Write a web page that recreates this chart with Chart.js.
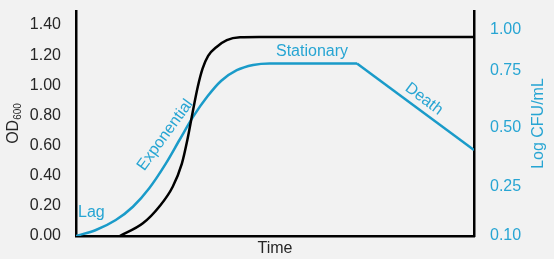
<!DOCTYPE html>
<html>
<head>
<meta charset="utf-8">
<script src="https://cdn.jsdelivr.net/npm/chart.js@4.4.1/dist/chart.umd.min.js"></script>
<style>
  html, body { margin: 0; padding: 0; background: #f2f2f2; overflow: hidden; }
  #wrap { width: 554px; height: 259px; }
</style>
</head>
<body>
<div id="wrap"><canvas id="growthChart"></canvas></div>
<script>
// OD600 curve (black), time in arbitrary units 0-100
const odTime = [11.0, 16.8, 20.9, 24.3, 26.6, 28.0, 29.3, 30.6, 31.8, 33.2, 35.4, 37.9, 41.2, 46, 100];
const odValues = [0, 0.084, 0.194, 0.327, 0.48, 0.64, 0.82, 0.99, 1.11, 1.195, 1.256, 1.30, 1.318, 1.32, 1.32];

// Log CFU/mL curve (blue): lag, exponential, stationary, then the death phase
const cfuTime = [0, 5.0, 10.0, 14.3, 18.4, 22.6, 26.0, 29.4, 33.0, 36.5, 40.4, 44.5, 48.7, 70.6];
const cfuValues = [0, 0.040, 0.106, 0.194, 0.317, 0.482, 0.637, 0.79, 0.925, 1.03, 1.10, 1.135, 1.145, 1.145];
const deathTime = [70.6, 100];
const deathValues = [1.145, 0.57];

// axis ticks
const odTicks = [0, 0.2, 0.4, 0.6, 0.8, 1.0, 1.2, 1.4];
const cfuTickLabels = ['0.10', '0.25', '0.50', '0.75', '1.00'];
const cfuTickAt = [0, 0.325, 0.717, 1.10, 1.367]; // where they sit on the OD scale

const phaseLabels = ['Lag', 'Exponential', 'Stationary', 'Death'];
const phaseAt = [[0.5, 0.153, 0, 'left'], [22.4, 0.67, -54, 'center'], [59.3, 1.221, 0, 'center'], [87.4, 0.909, 37, 'center']];

const BLUE = '#1a9bc9';
const TEXT_BLUE = '#27a5d3';
const DARK = '#262626';
const FONT = '"Liberation Sans", Arial, sans-serif';

const pts = (xs, ys) => xs.map((x, i) => ({ x: x, y: ys[i] }));

const textPlugin = {
  id: 'texts',
  afterDraw(chart) {
    const c = chart.ctx;
    const xs = chart.scales.x, ys = chart.scales.y;
    const area = chart.chartArea;
    c.save();
    c.textBaseline = 'middle';

    // OD600 title
    c.save();
    c.translate(14, (area.top + area.bottom) / 2);
    c.rotate(-Math.PI / 2);
    c.fillStyle = DARK;
    c.font = '16px ' + FONT;
    const w1 = c.measureText('OD').width;
    c.font = '10px ' + FONT;
    const w2 = c.measureText('600').width;
    const start = -(w1 + w2) / 2;
    c.font = '16px ' + FONT;
    c.textAlign = 'left';
    c.fillText('OD', start, 0);
    c.font = '10px ' + FONT;
    c.fillText('600', start + w1, 4);
    c.restore();

    // right title
    c.save();
    c.translate(539, (area.top + area.bottom) / 2);
    c.rotate(-Math.PI / 2);
    c.fillStyle = TEXT_BLUE;
    c.font = '16px ' + FONT;
    c.textAlign = 'center';
    c.fillText('Log CFU/mL', 0, 0);
    c.restore();

    // x title
    c.fillStyle = DARK;
    c.font = '16px ' + FONT;
    c.textAlign = 'center';
    c.fillText('Time', (area.left + area.right) / 2, 249);

    // phase labels
    phaseLabels.forEach((t, i) => {
      const p = phaseAt[i];
      c.save();
      c.translate(xs.getPixelForValue(p[0]), ys.getPixelForValue(p[1]));
      c.rotate(p[2] * Math.PI / 180);
      c.fillStyle = TEXT_BLUE;
      c.font = '16px ' + FONT;
      c.textAlign = p[3];
      c.fillText(t, 0, 0);
      c.restore();
    });
    c.restore();
  }
};

const yMax = 1.493;
const noPad = s => { s.paddingTop = 0; s.paddingBottom = 0; s.paddingLeft = 0; s.paddingRight = 0; };

new Chart(document.getElementById('growthChart'), {
  type: 'line',
  data: {
    datasets: [
      {
        label: 'OD600',
        data: pts(odTime, odValues),
        borderColor: '#000000',
        borderWidth: 2.5,
        pointRadius: 0,
        cubicInterpolationMode: 'monotone',
        yAxisID: 'y'
      },
      {
        label: 'Log CFU/mL',
        data: pts(cfuTime, cfuValues),
        borderColor: BLUE,
        borderWidth: 2.5,
        pointRadius: 0,
        cubicInterpolationMode: 'monotone',
        yAxisID: 'y2'
      },
      {
        label: 'Death',
        data: pts(deathTime, deathValues),
        borderColor: BLUE,
        borderWidth: 2.5,
        pointRadius: 0,
        tension: 0,
        yAxisID: 'y2'
      }
    ]
  },
  options: {
    responsive: true,
    maintainAspectRatio: false,
    animation: false,
    layout: { padding: { top: 11, left: 0, right: 0, bottom: 0 } },
    plugins: { legend: { display: false }, tooltip: { enabled: false } },
    scales: {
      x: {
        type: 'linear',
        min: 0,
        max: 100,
        grid: { display: false, drawTicks: false },
        border: { display: true, color: '#000', width: 2.5 },
        ticks: { display: false },
        afterFit: s => { s.height = 23; noPad(s); }
      },
      y: {
        position: 'left',
        min: 0,
        max: yMax,
        grid: { display: false, drawTicks: false },
        border: { display: true, color: '#000', width: 2.5 },
        afterBuildTicks: s => { s.ticks = odTicks.map(v => ({ value: v })); },
        ticks: {
          padding: 15,
          color: DARK,
          font: { family: FONT, size: 16 },
          callback: v => v.toFixed(2)
        },
        afterFit: s => { s.width = 76; noPad(s); }
      },
      y2: {
        position: 'right',
        min: 0,
        max: yMax,
        grid: { display: false, drawTicks: false },
        border: { display: true, color: '#000', width: 2.5 },
        afterBuildTicks: s => { s.ticks = cfuTickAt.map(v => ({ value: v })); },
        ticks: {
          padding: 16,
          color: TEXT_BLUE,
          font: { family: FONT, size: 16 },
          callback: (v, i) => cfuTickLabels[i]
        },
        afterFit: s => { s.width = 80; noPad(s); }
      }
    }
  },
  plugins: [textPlugin]
});
</script>
</body>
</html>
